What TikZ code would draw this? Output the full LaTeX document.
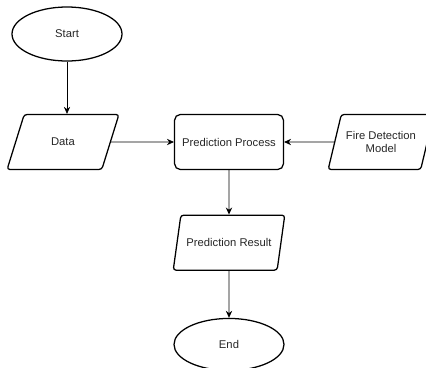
\documentclass[tikz,border=0pt]{standalone}
\usepackage{fontspec}
\setmainfont{Liberation Sans}
\usetikzlibrary{arrows.meta,positioning,shapes.geometric}

\begin{document}
\begin{tikzpicture}[
  base/.style={draw, line width=0.9pt, font=\fontsize{8}{9.5}\selectfont,
               text=black!85, align=center},
  term/.style={base, ellipse, minimum width=2.75cm, minimum height=1.35cm},
  io/.style={base, trapezium, trapezium left angle=67, trapezium right angle=113,
             trapezium stretches=true, rounded corners=2pt,
             minimum width=2.8cm, minimum height=1.375cm},
  proc/.style={base, rectangle, rounded corners=4pt,
               minimum width=2.72cm, minimum height=1.375cm},
  arr/.style={-{Stealth[length=5pt,width=4.5pt]}, line width=0.6pt}
]
  \useasboundingbox (0,0) rectangle (10.65,-9.175);

  \node[term] (start) at (1.675,-0.85) {Start};
  \node[io] (data) at (1.575,-3.55) {Data};
  \node[proc] (pred) at (5.725,-3.55) {Prediction Process};
  \node[io, minimum width=2.6cm] (model) at (9.525,-3.55)
    {Fire Detection\\Model};
  \node[io, below=1.11cm of pred] (result) {Prediction Result};
  \node[term, below=1.175cm of result, minimum height=1.3cm] (end) {End};

  \draw[arr] (start) -- (start |- data.north);
  \draw[arr] (data) -- (pred);
  \draw[arr] (model) -- (pred);
  \draw[arr] (pred) -- (result);
  \draw[arr] (result) -- (end);
\end{tikzpicture}
\end{document}
